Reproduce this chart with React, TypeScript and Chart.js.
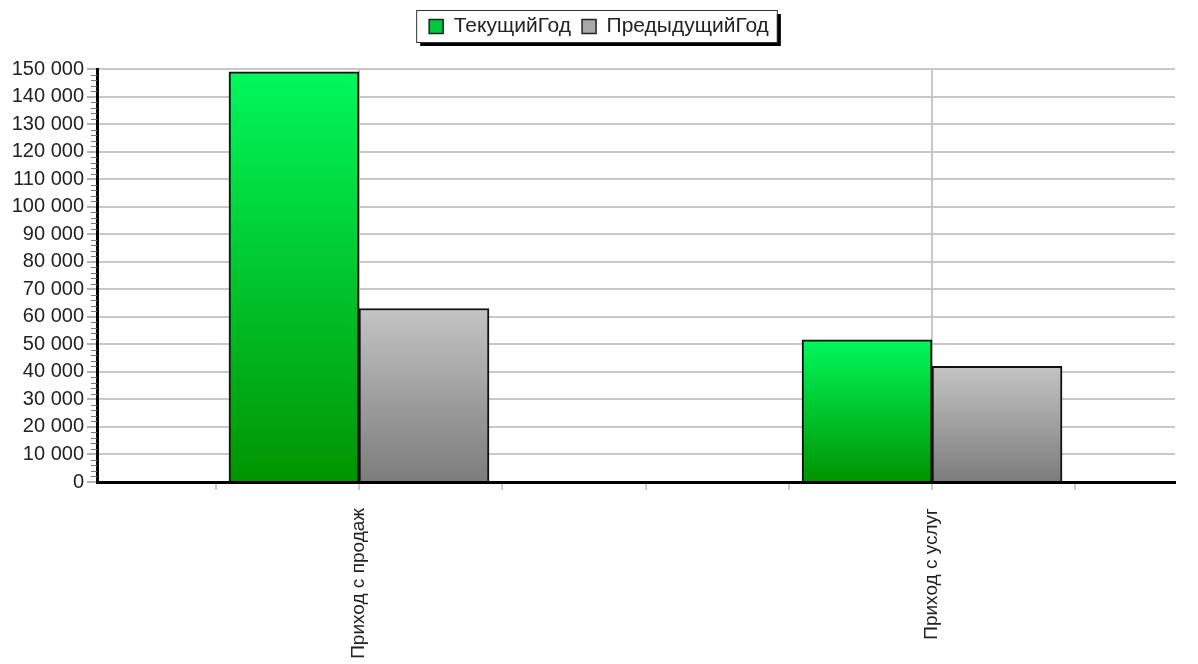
import React, { useEffect, useRef } from 'react';
import { Chart, registerables } from 'chart.js';

Chart.register(...registerables);

// ---- data ----
const categories = ['Приход с продаж', 'Приход с услуг'];
const seriesNames = ['ТекущийГод', 'ПредыдущийГод'];
const currentYear = [149000, 51600];
const previousYear = [63000, 42000];

// ---- axis settings ----
const yMin = 0;
const yMax = 150000;
const yMajorStep = 10000;
const yMinorStep = 2000;
const xMin = -0.4572;
const xMax = 1.424;
const xStep = 0.25;

const FONT = "'Liberation Sans', Arial, sans-serif";

const isWhole = (v: number) => Math.abs(v - Math.round(v)) < 1e-6;
const fmt = (v: number) => String(Math.round(v)).replace(/\B(?=(\d{3})+(?!\d))/g, ' ');

function barGradient(top: string, bottom: string) {
  return (ctx: any) => {
    const chart = ctx.chart;
    const area = chart.chartArea;
    if (!area || ctx.type !== 'data' || !ctx.parsed) return top;
    const y = chart.scales.y;
    const yTop = y.getPixelForValue(ctx.parsed.y);
    const yBase = y.getPixelForValue(0);
    const g = chart.ctx.createLinearGradient(0, yTop, 0, yBase);
    g.addColorStop(0, top);
    g.addColorStop(1, bottom);
    return g;
  };
}

const legendColors = ['#00c83c', '#a8a8a8'];

const legendFrame = {
  id: 'legendFrame',
  beforeDraw(chart: any) {
    const lg = chart.legend;
    if (!lg || !lg.legendHitBoxes || !lg.legendHitBoxes.length) return;
    const hb = lg.legendHitBoxes;
    const l = Math.min(...hb.map((h: any) => h.left)) - 13;
    const r = Math.max(...hb.map((h: any) => h.left + h.width)) + 8;
    const t = Math.min(...hb.map((h: any) => h.top)) - 6;
    const b = Math.max(...hb.map((h: any) => h.top + h.height)) + 5;
    const ctx = chart.ctx;
    ctx.save();
    ctx.fillStyle = '#000';
    ctx.fillRect(l + 4, t + 4, r - l, b - t);
    ctx.fillStyle = '#fff';
    ctx.fillRect(l, t, r - l, b - t);
    ctx.strokeStyle = '#333';
    ctx.lineWidth = 1;
    ctx.strokeRect(l + 0.5, t + 0.5, r - l, b - t);
    ctx.restore();
  },
};

const minorTicks = {
  id: 'minorTicks',
  afterDraw(chart: any) {
    const y = chart.scales.y;
    const ctx = chart.ctx;
    ctx.save();
    ctx.strokeStyle = '#777';
    ctx.lineWidth = 1;
    for (let v = yMin; v <= yMax; v += yMinorStep) {
      if (v % yMajorStep === 0) continue;
      const py = Math.round(y.getPixelForValue(v)) + 0.5;
      ctx.beginPath();
      ctx.moveTo(y.right - 6, py);
      ctx.lineTo(y.right, py);
      ctx.stroke();
    }
    ctx.restore();
  },
};

export default function App() {
  const ref = useRef<HTMLCanvasElement>(null);

  useEffect(() => {
    if (!ref.current) return;
    const chart = new Chart(ref.current, {
      type: 'bar',
      data: {
        datasets: [
          {
            label: seriesNames[0],
            data: currentYear.map((v, i) => ({ x: i, y: v })),
            backgroundColor: barGradient('#00f85c', '#009400'),
            borderColor: '#111',
            borderWidth: 2,
            barThickness: 130,
          },
          {
            label: seriesNames[1],
            data: previousYear.map((v, i) => ({ x: i, y: v })),
            backgroundColor: barGradient('#c4c4c4', '#7c7c7c'),
            borderColor: '#111',
            borderWidth: 2,
            barThickness: 130,
          },
        ] as any,
      },
      options: {
        animation: false,
        responsive: true,
        maintainAspectRatio: false,
        layout: { padding: { top: 5, right: 0, left: 0, bottom: 0 } },
        plugins: {
          tooltip: { enabled: false },
          subtitle: {
            display: true,
            text: '',
            weight: 500,
            font: { size: 10, lineHeight: 1 },
            padding: { top: 6, bottom: 6 },
          },
          legend: {
            display: true,
            position: 'top',
            labels: {
              boxWidth: 14,
              boxHeight: 14,
              padding: 11,
              color: '#222',
              font: { family: FONT, size: 21 },
              generateLabels: (c: any) => {
                const items = Chart.defaults.plugins.legend.labels.generateLabels(c);
                return items.map((it: any, i: number) => ({
                  ...it,
                  fillStyle: legendColors[i],
                  strokeStyle: '#222',
                  lineWidth: 1.5,
                }));
              },
            },
          },
        },
        scales: {
          x: {
            type: 'linear',
            offset: false,
            min: xMin,
            max: xMax,
            afterFit: (s: any) => {
              s.height = 182;
            },
            grid: {
              offset: false,
              color: (ctx: any) => (ctx.tick && isWhole(ctx.tick.value) ? '#c8c8c8' : 'rgba(0,0,0,0)'),
              tickColor: '#999',
              lineWidth: 2,
              tickWidth: 1,
              tickLength: 8,
              drawTicks: true,
            },
            border: { display: true, color: '#000', width: 3 },
            ticks: {
              stepSize: xStep,
              includeBounds: false,
              autoSkip: false,
              minRotation: 90,
              maxRotation: 90,
              padding: 18,
              color: '#222',
              font: { family: FONT, size: 19 },
              callback: (v: any) => {
                const n = Number(v);
                return isWhole(n) && categories[Math.round(n)] ? categories[Math.round(n)] : '';
              },
            },
          },
          y: {
            min: yMin,
            max: yMax,
            afterFit: (s: any) => {
              s.width = 97;
            },
            grid: {
              color: '#c8c8c8',
              lineWidth: 2,
              tickColor: '#666',
              tickWidth: 1,
              tickLength: 10,
            },
            border: { display: true, color: '#000', width: 3 },
            ticks: {
              stepSize: yMajorStep,
              padding: 3,
              color: '#222',
              font: { family: FONT, size: 20 },
              callback: (v: any) => fmt(Number(v)),
            },
          },
          yRightGap: {
            type: 'linear',
            position: 'right',
            min: yMin,
            max: yMax,
            afterFit: (s: any) => {
              s.width = 23;
            },
            grid: { display: false, drawTicks: false },
            border: { display: false },
            ticks: { display: false },
          },
        },
      } as any,
      plugins: [legendFrame, minorTicks],
    });
    return () => chart.destroy();
  }, []);

  return (
    <div style={{ position: 'fixed', left: 0, top: 0, width: 1198, height: 664, background: '#fff' }}>
      <canvas ref={ref} />
    </div>
  );
}
